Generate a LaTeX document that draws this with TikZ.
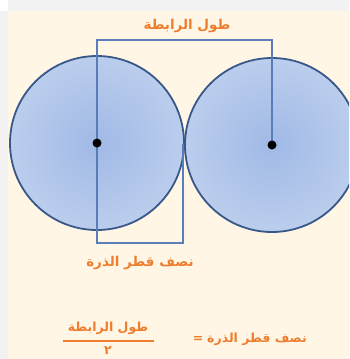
\documentclass[tikz,border=0pt]{standalone}
\usepackage{fontspec}
\newfontfamily\arabicfont[Script=Arabic]{DejaVu Sans}
\TeXXeTstate=1
\definecolor{bgcream}{RGB}{255,246,229}
\definecolor{margingrey}{RGB}{242,242,242}
\definecolor{labelorange}{RGB}{238,125,45}
\definecolor{bracketblue}{RGB}{88,125,184}
\definecolor{rimblue}{RGB}{56,88,138}
\definecolor{ballin}{RGB}{160,185,230}
\definecolor{ballout}{RGB}{215,226,244}
\pgfdeclareradialshading{ballshade}{\pgfpoint{0bp}{0bp}}{color(0bp)=(ballin); color(50bp)=(ballout)}
\tikzset{
  ball/.style={draw=rimblue, line width=1.8pt, shading=ballshade},
  bracket/.style={draw=bracketblue, line width=1.1pt},
  nucleus/.style={circle, fill=black, inner sep=0pt, minimum size=9pt},
  arlabel/.style={text=labelorange, font=\arabicfont\bfseries\fontsize{13.5}{15}\selectfont, inner sep=0pt},
  arsmall/.style={text=labelorange, font=\arabicfont\bfseries\fontsize{12.5}{14}\selectfont, inner sep=0pt}
}
\begin{document}
\begin{tikzpicture}[x=1pt,y=-1pt]
\useasboundingbox (0,0) rectangle (349,359);
\clip (0,0) rectangle (349,359);
\fill[margingrey] (0,0) rectangle (349,359);
\fill[white] (0,0) rectangle (8,11);
\fill[bgcream] (8,11) rectangle (349,359);
% atoms
\path[ball] (97,143) circle[radius=87];
\path[ball] (272,145) circle[radius=87];
\coordinate (touch) at (183,144);
\coordinate (tl) at (97,40);
\coordinate (tr) at (272,40);
\coordinate (bl) at (97,243);
\coordinate (br) at (183,243);
\coordinate (a1) at (97,143);
\coordinate (a2) at (272,145);
% bond length bracket
\draw[bracket] (a1) -- (tl) -- (tr) -- (a2);
% radius bracket
\draw[bracket] (a1) -- (bl) -- (br) -- (touch);
\node[nucleus] (c1) at (a1) {};
\node[nucleus] (c2) at (a2) {};
% labels
\node[arlabel] (bond) at (187,26) {\beginR طول الرابطة\endR};
\node[arlabel] (radius) at (140,263) {\beginR نصف قطر الذرة\endR};
% formula
\node[arsmall] (lhs) at (257,339) {\beginR نصف قطر الذرة\endR};
\node[arsmall] (eq) at (198,339) {=};
\node[arsmall] (num) at (108,328) {\beginR طول الرابطة\endR};
\node[arsmall] (den) at (108,351) {\beginR ٢\endR};
\draw[labelorange, line width=1.1pt] (63,341) -- (154,341);
\end{tikzpicture}
\end{document}
